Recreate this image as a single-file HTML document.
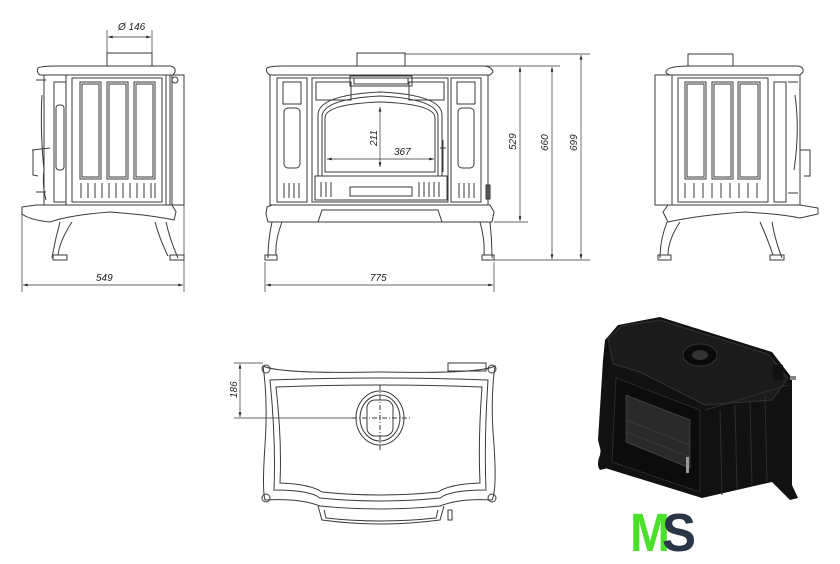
<!DOCTYPE html>
<html><head><meta charset="utf-8"><style>
html,body{margin:0;padding:0;background:#fff}
svg{display:block}
text{font-family:"Liberation Sans",sans-serif;font-style:italic;font-size:10px;fill:#222}
</style></head><body>
<svg width="840" height="564" viewBox="0 0 840 564" xmlns="http://www.w3.org/2000/svg">
<defs>
<marker id="a" viewBox="0 0 10 6" refX="10" refY="3" markerWidth="8" markerHeight="4" orient="auto-start-reverse"><path d="M0,0L10,3L0,6z" fill="#222"/></marker>
</defs>
<g fill="none" stroke="#3a3a3a" stroke-width="1">
<!-- LEFT SIDE VIEW -->
<rect x="107" y="53" width="45" height="13"/>
<path d="M38,68 Q40,66 60,66 L170,66 Q176,67 175,72 L173,75 L40,75 Q36,72 38,68z"/>
<rect x="44" y="75" width="128" height="130"/>
<rect x="66" y="75" width="100" height="130"/>
<rect x="72" y="78" width="90" height="124"/>
<rect x="80" y="82" width="21" height="97"/><rect x="82" y="84" width="17" height="93"/>
<rect x="107" y="82" width="21" height="97"/><rect x="109" y="84" width="17" height="93"/>
<rect x="134" y="82" width="21" height="97"/><rect x="136" y="84" width="17" height="93"/>
<path d="M81,183v15M88,183v15M95,183v15M102,183v15M109,183v15M116,183v15M123,183v15M130,183v15M137,183v15M144,183v15M151,183v15M155,183v15"/>
<rect x="54" y="82" width="12" height="120"/>
<rect x="56" y="105" width="8" height="65" rx="3"/>
<path d="M170,75 L170,205 L184,205 L184,75z"/>
<circle cx="175" cy="80" r="3"/>
<path d="M36,80 L46,80 M36,192 L46,192 M42,95 Q40,130 44,170 Q42,185 46,200 M32,150 L50,148 M33,150 L33,175 L38,176"/>
<path d="M22,207 L36,205 L172,205 L176,212 L174,220 Q150,215 110,212 Q70,215 50,222 Q30,220 22,214z"/>
<path d="M60,222 Q55,240 52,258 M72,222 Q60,240 58,255 M155,222 Q160,240 168,256 M166,222 Q170,240 178,258"/>
<rect x="53" y="255" width="14" height="5"/><rect x="170" y="255" width="14" height="5"/>
<!-- FRONT VIEW -->
<rect x="357" y="53" width="48" height="13"/>
<path d="M267,68 Q270,66 285,66 L485,66 Q492,67 493,72 L490,75 L270,75 Q265,72 267,68z"/>
<rect x="270" y="75" width="218" height="130"/>
<rect x="277" y="78" width="30" height="124"/><rect x="451" y="78" width="30" height="124"/>
<rect x="283" y="82" width="18" height="22"/><rect x="457" y="82" width="18" height="22"/>
<rect x="284" y="108" width="16" height="60" rx="4"/><rect x="458" y="108" width="16" height="60" rx="4"/>
<path d="M284,183v15M289,183v15M294,183v15M299,183v15M459,183v15M464,183v15M469,183v15M474,183v15"/>
<rect x="312" y="78" width="136" height="124"/>
<rect x="316" y="82" width="35" height="18"/><rect x="409" y="82" width="35" height="18"/>
<rect x="350" y="76" width="62" height="10"/><rect x="354" y="78" width="54" height="6"/>
<path d="M318,176 L318,115 Q318,95 380,92 Q442,95 442,115 L442,176z"/>
<path d="M322,176 L322,117 Q322,99 380,96 Q438,99 438,117 L438,176"/>
<path d="M325,172 L325,118 Q325,104 380,102 Q435,104 435,118 L435,172z"/>
<rect x="315" y="176" width="132" height="24"/>
<rect x="350" y="187" width="62" height="9"/>
<path d="M321,182v15M326,182v15M331,182v15M419,182v15M424,182v15M429,182v15M434,182v15M439,182v15"/>
<path d="M443,140 L443,172 M440,148 L446,148"/>
<rect x="486" y="185" width="4" height="14" fill="#555"/>
<path d="M267,207 L272,205 L490,205 L494,212 L492,222 L268,222 L266,214z M318,222 L322,210 L438,210 L442,222"/>
<path d="M272,222 Q268,240 268,258 M282,222 Q275,240 276,255 M480,222 Q485,240 484,255 M490,222 Q492,240 492,258"/>
<rect x="265" y="255" width="12" height="5"/><rect x="482" y="255" width="12" height="5"/>
<!-- RIGHT SIDE VIEW -->
<rect x="688" y="54" width="45" height="12"/>
<path d="M667,70 Q670,66 690,66 L798,66 Q804,67 803,72 L800,75 L670,75 Q664,73 667,70z"/>
<rect x="655" y="75" width="17" height="130"/>
<rect x="672" y="75" width="128" height="130"/>
<rect x="678" y="78" width="90" height="124"/>
<rect x="685" y="82" width="21" height="97"/><rect x="687" y="84" width="17" height="93"/>
<rect x="712" y="82" width="21" height="97"/><rect x="714" y="84" width="17" height="93"/>
<rect x="738" y="82" width="22" height="97"/><rect x="740" y="84" width="18" height="93"/>
<path d="M685,183v15M694,183v15M703,183v15M712,183v15M721,183v15M730,183v15M739,183v15M748,183v15M757,183v15"/>
<rect x="774" y="82" width="12" height="120"/>
<path d="M788,82 L798,82 M788,193 L798,193 M795,95 Q800,130 794,170 M800,150 L810,150 L810,176 L804,176"/>
<path d="M663,212 L668,205 L800,205 L818,208 L818,214 L800,218 Q780,214 745,212 Q700,215 668,222z"/>
<path d="M667,222 Q660,240 660,258 M680,222 Q668,240 668,255 M760,222 Q768,240 773,255 M772,222 Q775,240 782,258"/>
<rect x="658" y="255" width="13" height="5"/><rect x="770" y="255" width="14" height="5"/>
<!-- TOP VIEW -->
<path d="M263,366 Q280,374 380,372 Q480,374 495,366 Q490,400 494,445 Q497,490 492,500 Q460,498 440,506 Q380,512 320,506 Q300,498 265,500 Q262,490 265,445 Q268,400 263,366z"/>
<path d="M270,380 Q380,376 488,380 Q484,440 486,490 Q450,490 440,498 Q380,504 320,498 Q310,490 274,490 Q276,440 270,380z"/>
<path d="M276,387 Q380,383 482,387 Q478,440 480,483 Q450,484 438,492 Q380,498 322,492 Q310,484 280,483 Q282,440 276,387z"/>
<path d="M318,506 L322,520 Q380,528 440,520 L444,506"/>
<path d="M324,510 L326,518 Q380,524 436,518 L438,510"/>
<rect x="448" y="363" width="38" height="8"/>
<rect x="448" y="510" width="4" height="10"/>
<circle cx="266" cy="369" r="4"/><circle cx="492" cy="369" r="4"/><circle cx="266" cy="498" r="4"/><circle cx="492" cy="498" r="4"/>
<ellipse cx="380" cy="418" rx="24" ry="27"/>
<ellipse cx="380" cy="418" rx="20" ry="23"/>
<rect x="367" y="400" width="26" height="36" rx="8"/>
<path d="M380,385 L380,452 M352,418 L410,418" stroke-dasharray="5,2,1,2"/>
</g>
<!-- DIMENSIONS -->
<g stroke="#333" stroke-width="0.7" fill="none">
<path d="M107,30 V53 M152,30 V53"/>
<path d="M108,37 H151" marker-start="url(#a)" marker-end="url(#a)"/>
<path d="M22,212 V292 M184,205 V292"/>
<path d="M23,285 H183" marker-start="url(#a)" marker-end="url(#a)"/>
<path d="M265,262 V292 M494,262 V292"/>
<path d="M266,285 H493" marker-start="url(#a)" marker-end="url(#a)"/>
<path d="M380,107 V167" marker-start="url(#a)" marker-end="url(#a)"/>
<path d="M327,159 H434" marker-start="url(#a)" marker-end="url(#a)"/>
<path d="M405,54 H590 M480,66 H560 M494,222 H528 M494,260 H590"/>
<path d="M520,67 V221" marker-start="url(#a)" marker-end="url(#a)"/>
<path d="M552,67 V259" marker-start="url(#a)" marker-end="url(#a)"/>
<path d="M581,55 V259" marker-start="url(#a)" marker-end="url(#a)"/>
<path d="M234,363 H263 M234,418 H355"/>
<path d="M240,364 V417" marker-start="url(#a)" marker-end="url(#a)"/>
</g>
<text x="118" y="30">Ø 146</text>
<text x="96" y="281">549</text>
<text x="370" y="281">775</text>
<text x="394" y="155">367</text>
<text transform="translate(377,146) rotate(-90)">211</text>
<text transform="translate(516,150) rotate(-90)">529</text>
<text transform="translate(548,151) rotate(-90)">660</text>
<text transform="translate(577,151) rotate(-90)">699</text>
<text transform="translate(237,398) rotate(-90)">186</text>
<!-- 3D STOVE -->
<g>
<path d="M605,340 L618,325 L660,317 L772,352 L792,378 L792,492 L772,482 L702,498 L605,468 L598,440 L603,360z" fill="#111"/>
<path d="M608,338 L622,326 L660,320 L768,354 L788,378 L772,400 L705,405 L640,372 L613,364z" fill="#1b1b1b" stroke="#333" stroke-width="1"/>
<path d="M616,378 L700,410 L700,492 L612,462z" fill="#0c0c0c" stroke="#2a2a2a"/>
<path d="M626,395 L690,420 L690,468 L626,442z" fill="#2a2a2a" stroke="#555" stroke-width="0.6"/>
<path d="M626,420 L690,445 M626,432 L690,457" stroke="#444" stroke-width="0.6" fill="none"/>
<path d="M705,410 L788,385 M720,410 L722,495 M735,405 L737,490 M750,400 L752,486 M765,395 L767,482" stroke="#2e2e2e" fill="none"/>
<ellipse cx="700" cy="355" rx="17" ry="11" fill="#0a0a0a" stroke="#333"/>
<ellipse cx="700" cy="355" rx="8" ry="5" fill="#333"/>
<rect x="773" y="365" width="10" height="15" fill="#111"/>
<path d="M602,440 L612,445 L608,468 L600,470 Q596,465 600,455z" fill="#111"/>
<path d="M770,480 L790,500 L798,498 L785,470z" fill="#111"/>
<rect x="790" y="376" width="6" height="4" fill="#888"/>
<rect x="686" y="457" width="3" height="16" fill="#999"/>
</g>
<!-- LOGO -->
<text x="630" y="551" style="font-style:normal;font-weight:bold;font-size:54px;fill:#4be02a" textLength="40" lengthAdjust="spacingAndGlyphs">M</text>
<text x="662" y="551" style="font-style:normal;font-weight:bold;font-size:54px;fill:#2a3547" textLength="34" lengthAdjust="spacingAndGlyphs">S</text>
</svg>
</body></html>
